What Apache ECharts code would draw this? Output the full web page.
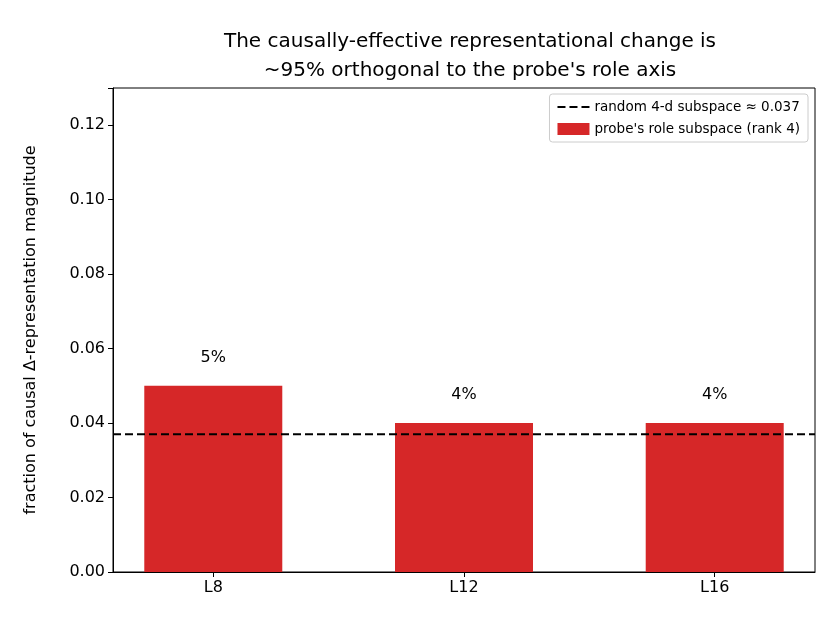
<!DOCTYPE html>
<html>
<head>
<meta charset="utf-8">
<script src="https://cdn.jsdelivr.net/npm/echarts@6/dist/echarts.min.js"></script>
<style>html,body{margin:0;padding:0;background:#fff}#chart{width:840px;height:630px}</style>
</head>
<body>
<div id="chart"></div>
<script>
const categories = ['L8', 'L12', 'L16'];
const fractions = [0.05, 0.04, 0.04];
const pctLabels = ['5%', '4%', '4%'];
const randomBaseline = 0.037;
const yTicks = [0, 0.02, 0.04, 0.06, 0.08, 0.10, 0.12];

(function () {
    const myChart = echarts.init(document.getElementById('chart'));
    const font = 'DejaVu Sans';
    const option = {
        animation: false,
        textStyle: { fontFamily: font },
        title: {
            text: 'The causally-effective representational change is\n~95% orthogonal to the probe\'s role axis',
            left: 465, top: 22, textAlign: 'center',
            textStyle: { fontSize: 20, fontWeight: 'normal', color: '#000', lineHeight: 29, fontFamily: font }
        },
        legend: {
            right: 32, top: 94, orient: 'vertical',
            backgroundColor: '#fff', borderColor: '#ccc', borderWidth: 1, borderRadius: 3,
            padding: [6, 8], itemGap: 8, itemWidth: 32, itemHeight: 12,
            textStyle: { fontSize: 13.5, color: '#000', fontFamily: font },
            data: [
                { name: 'random 4-d subspace \u2248 0.037', icon: 'path://M0,0 H8 V2 H0 Z M12,0 H20 V2 H12 Z M24,0 H32 V2 H24 Z', itemStyle: { color: '#000' } },
                { name: 'probe\'s role subspace (rank 4)', icon: 'rect' }
            ]
        },
        grid: { left: 113, right: 25, top: 88, bottom: 58, show: true, borderColor: '#000', borderWidth: 1 },
        xAxis: {
            type: 'value', min: -0.4, max: 2.4,
            splitLine: { show: false },
            axisLine: { show: true, onZero: false, lineStyle: { color: '#000' } },
            axisTick: { show: true, customValues: [0, 1, 2], length: 5, lineStyle: { color: '#000' } },
            axisLabel: {
                customValues: [0, 1, 2], fontSize: 16, color: '#000', margin: 8,
                formatter: v => categories[Math.round(v)]
            }
        },
        yAxis: {
            type: 'value', min: 0, max: 0.13, interval: 0.02,
            name: 'fraction of causal \u0394-representation magnitude',
            nameLocation: 'middle', nameGap: 74,
            nameTextStyle: { fontSize: 16, color: '#000' },
            splitLine: { show: false },
            axisLine: { show: true, onZero: false, lineStyle: { color: '#000' } },
            axisTick: { show: true, length: 5, lineStyle: { color: '#000' } },
            axisLabel: {
                fontSize: 16, color: '#000',
                formatter: v => yTicks.some(t => Math.abs(t - v) < 1e-9) ? v.toFixed(2) : ''
            }
        },
        series: [
            {
                name: 'probe\'s role subspace (rank 4)',
                type: 'bar', barWidth: 138,
                itemStyle: { color: '#d62728' },
                label: {
                    show: true, position: 'top', distance: 20, fontSize: 16, color: '#000',
                    formatter: p => pctLabels[p.dataIndex]
                },
                data: fractions.map((v, i) => [i, v]),
                z: 2
            },
            {
                name: 'random 4-d subspace \u2248 0.037',
                type: 'line', symbol: 'none',
                lineStyle: { color: '#000', type: [8, 4], width: 2 },
                itemStyle: { color: '#000' },
                data: [[-0.4, randomBaseline], [2.4, randomBaseline]],
                z: 3
            }
        ]
    };
    myChart.setOption(option);
})();
</script>
</body>
</html>
